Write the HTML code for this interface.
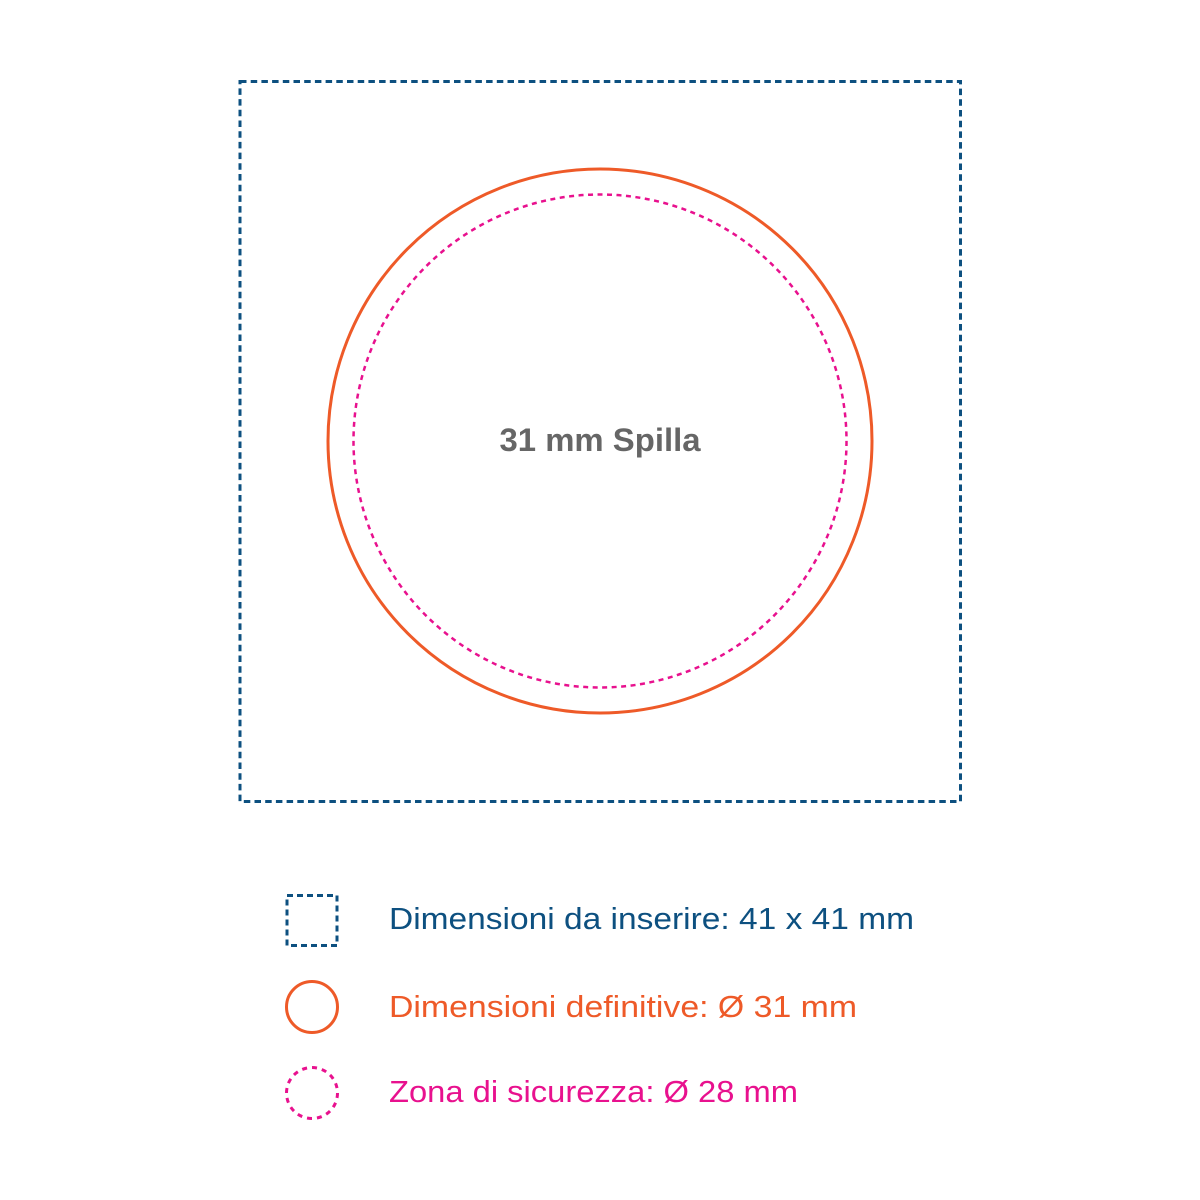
<!DOCTYPE html>
<html><head><meta charset="utf-8"><style>
html,body{margin:0;padding:0;background:#fff}
svg{display:block}
text{font-family:"Liberation Sans",sans-serif}
</style></head><body>
<svg width="1200" height="1200" viewBox="0 0 1200 1200" xmlns="http://www.w3.org/2000/svg">
<rect x="240" y="81.5" width="720.5" height="720" fill="none" stroke="#0d5080" stroke-width="3" stroke-dasharray="6.5 4.2"/>
<circle cx="600" cy="441" r="272" fill="none" stroke="#ee5a28" stroke-width="3"/>
<circle cx="600" cy="441" r="246.5" fill="none" stroke="#e8118e" stroke-width="2.5" stroke-dasharray="5 4.5"/>
<text x="600" y="451" text-anchor="middle" font-size="32" font-weight="bold" fill="#666" textLength="201" lengthAdjust="spacingAndGlyphs">31 mm Spilla</text>
<rect x="287" y="895.5" width="50" height="50" fill="none" stroke="#0d5080" stroke-width="3" stroke-dasharray="6 4"/>
<circle cx="312" cy="1007" r="25.5" fill="none" stroke="#ee5a28" stroke-width="3"/>
<circle cx="312" cy="1093" r="25.5" fill="none" stroke="#e8118e" stroke-width="3" stroke-dasharray="5 5"/>
<text x="389" y="929" font-size="31" fill="#0d5080" textLength="525" lengthAdjust="spacingAndGlyphs">Dimensioni da inserire: 41 x 41 mm</text>
<text x="389" y="1017" font-size="31" fill="#ee5a28" textLength="468" lengthAdjust="spacingAndGlyphs">Dimensioni definitive: Ø 31 mm</text>
<text x="389" y="1102" font-size="31" fill="#e8118e" textLength="409" lengthAdjust="spacingAndGlyphs">Zona di sicurezza: Ø 28 mm</text>
</svg>
</body></html>
